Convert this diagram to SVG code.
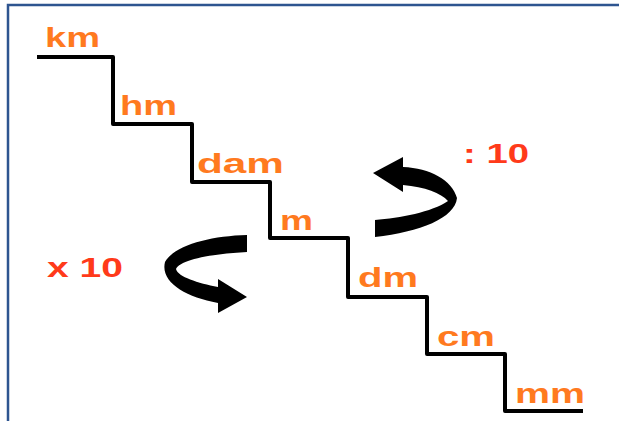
<svg xmlns="http://www.w3.org/2000/svg" width="619" height="421" viewBox="0 0 619 421">
<style>
.unit{font-family:"Liberation Sans",Arial,sans-serif;font-weight:bold;font-size:28px;fill:#FF7A1F;}
.op{font-family:"Liberation Sans",Arial,sans-serif;font-weight:bold;font-size:28px;fill:#FF3A1A;}
.stairs{fill:none;stroke:#000;stroke-width:4;stroke-linejoin:round;}
.border{stroke:#2E5590;stroke-width:2.5;fill:none;}
.arrow{fill:#000;}
</style>
<rect width="619" height="421" fill="#fff"/>
<g id="border"><path class="border" d="M8,421 V5 H619"/></g>
<g id="connectors">
<path class="stairs" d="M37,57 H113 V124 H192 V182 H270 V238 H348 V297 H427 V354 H505 V411 H583"/>
</g>
<g id="units">
<text id="km" class="unit" x="45" y="47" textLength="55" lengthAdjust="spacingAndGlyphs">km</text>
<text id="hm" class="unit" x="120" y="115" textLength="57" lengthAdjust="spacingAndGlyphs">hm</text>
<text id="dam" class="unit" x="197" y="173" textLength="87" lengthAdjust="spacingAndGlyphs">dam</text>
<text id="m" class="unit" x="280" y="230" textLength="33" lengthAdjust="spacingAndGlyphs">m</text>
<text id="dm" class="unit" x="358" y="287" textLength="60" lengthAdjust="spacingAndGlyphs">dm</text>
<text id="cm" class="unit" x="437" y="346" textLength="58" lengthAdjust="spacingAndGlyphs">cm</text>
<text id="mm" class="unit" x="515" y="403" textLength="70" lengthAdjust="spacingAndGlyphs">mm</text>
</g>
<g id="divide">
<text class="op" x="463" y="163" textLength="66" lengthAdjust="spacingAndGlyphs">: 10</text>
<path class="arrow" d="M375,220 C400,218 432,212 448,201 C441,193 425,187 403,185 L403,192 L373,173 L403,157 L403,167 C430,168 452,180 457,198 C455,218 420,232 375,237 Z"/>
</g>
<g id="multiply">
<text class="op" x="47" y="277" textLength="76" lengthAdjust="spacingAndGlyphs">x 10</text>
<path class="arrow" d="M247,235 C210,236 175,245 165,262 C160,282 185,297 218,303 L218,313 L247,297 L218,279 L218,287 C198,283 178,277 176,269 C180,260 210,254 247,252 Z"/>
</g>
</svg>
